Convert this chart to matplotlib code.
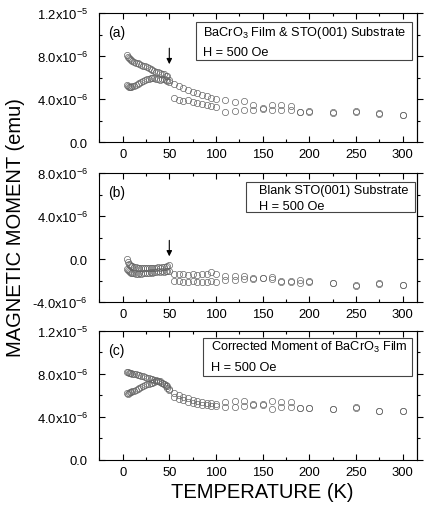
import numpy as np
import matplotlib
matplotlib.use("Agg")
import matplotlib.pyplot as plt
from matplotlib.patches import Rectangle
from matplotlib.ticker import MultipleLocator, FixedLocator

plt.rcParams['font.family'] = ['Liberation Sans', 'DejaVu Sans']
plt.rcParams['mathtext.default'] = 'regular'

# temperature grids (K)
t_low = [5, 6, 7, 8, 9, 10, 12, 14, 16, 18, 20, 22, 24, 26, 28, 30, 32, 34, 36, 38, 40, 42, 44, 46, 48, 50]
t_mid = [55, 60, 65, 70, 75, 80, 85, 90, 95, 100]
t_sparse = [110, 120, 130, 140, 150, 160, 170, 180, 190, 200, 225, 250, 275, 300]

# (a) film + substrate, units of 1e-6 emu
a_up_low = [8.15, 7.95, 7.8, 7.7, 7.6, 7.55, 7.5, 7.4, 7.35, 7.3, 7.2, 7.1, 7.05, 6.95, 6.9, 6.8, 6.7, 6.65, 6.55, 6.5, 6.4, 6.35, 6.3, 6.2, 6.15, 5.8]
a_dn_low = [5.3, 5.2, 5.15, 5.1, 5.15, 5.2, 5.25, 5.35, 5.45, 5.5, 5.6, 5.7, 5.75, 5.85, 5.9, 5.95, 5.95, 5.95, 5.9, 5.85, 5.8, 5.85, 5.9, 5.8, 5.7, 5.6]
a_up_mid = [5.4, 5.2, 5.0, 4.85, 4.7, 4.55, 4.4, 4.3, 4.15, 4.05]
a_dn_mid = [4.1, 3.95, 3.85, 3.95, 3.7, 3.6, 3.55, 3.45, 3.35, 3.3]
a_up_sp = [3.93, 3.75, 3.85, 3.45, 3.2, 3.5, 3.5, 3.4, 2.85, 2.9, 2.8, 2.9, 2.7, 2.55]
a_dn_sp = [2.85, 2.9, 2.95, 3.0, 3.05, 3.0, 3.0, 2.95, 2.8, 2.85, 2.75, 2.8, 2.65, 2.5]

# (b) blank substrate
b_up_low = [0.0, -0.3, -0.45, -0.55, -0.6, -0.65, -0.7, -0.75, -0.8, -0.8, -0.85, -0.8, -0.85, -0.8, -0.85, -0.8, -0.85, -0.8, -0.8, -0.75, -0.8, -0.75, -0.7, -0.7, -0.6, -0.55]
b_dn_low = [-0.95, -1.05, -1.15, -1.2, -1.25, -1.3, -1.3, -1.35, -1.35, -1.3, -1.35, -1.3, -1.25, -1.3, -1.25, -1.2, -1.25, -1.2, -1.2, -1.15, -1.2, -1.15, -1.2, -1.15, -1.1, -1.1]
b_up_mid = [-1.35, -1.4, -1.4, -1.45, -1.4, -1.45, -1.4, -1.35, -1.2, -1.4]
b_dn_mid = [-2.0, -2.05, -2.1, -2.1, -2.05, -2.1, -2.15, -2.1, -2.05, -2.1]
b_up_sp = [-1.55, -1.6, -1.55, -1.75, -1.75, -1.7, -2.05, -2.05, -1.9, -2.0, -2.2, -2.45, -2.2, -2.4]
b_dn_sp = [-1.9, -1.9, -1.85, -1.85, -1.8, -1.85, -2.15, -2.15, -2.2, -2.1, -2.25, -2.5, -2.3, -2.45]

# (c) corrected film moment
c_up_low = [8.2, 8.15, 8.1, 8.05, 8.05, 8.0, 8.0, 7.95, 7.9, 7.9, 7.85, 7.8, 7.7, 7.65, 7.6, 7.55, 7.5, 7.45, 7.4, 7.35, 7.3, 7.2, 7.1, 7.0, 6.9, 6.6]
c_dn_low = [6.2, 6.15, 6.2, 6.3, 6.35, 6.4, 6.45, 6.5, 6.6, 6.7, 6.8, 6.9, 7.0, 7.05, 7.1, 7.15, 7.2, 7.25, 7.3, 7.3, 7.25, 7.2, 7.1, 6.9, 6.7, 6.5]
c_up_mid = [6.25, 6.05, 5.9, 5.75, 5.6, 5.5, 5.4, 5.3, 5.3, 5.25]
c_dn_mid = [5.85, 5.7, 5.55, 5.4, 5.3, 5.2, 5.15, 5.1, 5.05, 5.0]
c_up_sp = [5.42, 5.5, 5.5, 5.2, 5.2, 5.5, 5.4, 5.35, 4.8, 4.8, 4.74, 4.95, 4.6, 4.6]
c_dn_sp = [4.9, 4.9, 5.0, 5.1, 5.15, 4.75, 4.9, 4.9, 4.8, 4.8, 4.74, 4.8, 4.6, 4.6]

panels = [
    dict(up=(a_up_low, a_up_mid, a_up_sp), dn=(a_dn_low, a_dn_mid, a_dn_sp),
         ylim=(0, 12e-6), ticks=[0, 4e-6, 8e-6, 12e-6],
         labels=['0.0', r'4.0x10$^{-6}$', r'8.0x10$^{-6}$', r'1.2x10$^{-5}$'],
         tag='(a)', text=[r'BaCrO$_3$ Film & STO(001) Substrate', 'H = 500 Oe'],
         box=(0.305, 0.636, 0.682, 0.294), txt=(0.327, 0.853, 0.698),
         arrow=(9.0e-6, 7.0e-6)),
    dict(up=(b_up_low, b_up_mid, b_up_sp), dn=(b_dn_low, b_dn_mid, b_dn_sp),
         ylim=(-4e-6, 8e-6), ticks=[-4e-6, 0, 4e-6, 8e-6],
         labels=[r'-4.0x10$^{-6}$', '0.0', r'4.0x10$^{-6}$', r'8.0x10$^{-6}$'],
         tag='(b)', text=['Blank STO(001) Substrate', 'H = 500 Oe'],
         box=(0.462, 0.695, 0.533, 0.238), txt=(0.503, 0.87, 0.747),
         arrow=(2.0e-6, 0.0)),
    dict(up=(c_up_low, c_up_mid, c_up_sp), dn=(c_dn_low, c_dn_mid, c_dn_sp),
         ylim=(0, 12e-6), ticks=[0, 4e-6, 8e-6, 12e-6],
         labels=['0.0', r'4.0x10$^{-6}$', r'8.0x10$^{-6}$', r'1.2x10$^{-5}$'],
         tag='(c)', text=[r'Corrected Moment of BaCrO$_3$ Film', 'H = 500 Oe'],
         box=(0.327, 0.651, 0.660, 0.295), txt=(0.352, 0.876, 0.721),
         arrow=None),
]

fig = plt.figure(figsize=(4.26, 5.06), dpi=100)
bottoms = [0.717, 0.401, 0.089]
t_all = np.array(t_low + t_mid + t_sparse)

for p, b in zip(panels, bottoms):
    ax = fig.add_axes([0.232, b, 0.746, 0.255])
    for br in (p['up'], p['dn']):
        vals = np.array(br[0] + br[1] + br[2]) * 1e-6
        ax.plot(t_all, vals, 'o', ms=4.5, mfc='none', mec='#666666', mew=0.5)
    ax.set_xlim(-25.5, 315)
    ax.set_ylim(*p['ylim'])
    ax.xaxis.set_major_locator(MultipleLocator(50))
    ax.xaxis.set_minor_locator(MultipleLocator(25))
    ax.set_yticks(p['ticks'])
    ax.set_yticklabels(p['labels'])
    ax.yaxis.set_minor_locator(MultipleLocator(2e-6))
    ax.tick_params(which='both', direction='in', top=True, labelsize=9.4, width=0.8, pad=4)
    ax.tick_params(axis='y', pad=8)
    ax.tick_params(which='major', length=4.5)
    ax.tick_params(which='minor', length=2.5)
    for s in ax.spines.values():
        s.set_linewidth(0.8)

    # right-hand ticks point outward
    sec = ax.secondary_yaxis('right')
    sec.set_yticks(p['ticks'])
    sec.yaxis.set_minor_locator(FixedLocator(np.arange(p['ylim'][0], p['ylim'][1] + 1e-9, 2e-6)))
    sec.tick_params(which='both', direction='out', labelright=False, width=0.8)
    sec.tick_params(which='major', length=4.5)
    sec.tick_params(which='minor', length=2.5)
    sec.spines['right'].set_linewidth(0.8)

    ax.text(0.028, 0.853, p['tag'], transform=ax.transAxes, fontsize=10, va='center')
    bx = p['box']
    ax.add_patch(Rectangle((bx[0], bx[1]), bx[2], bx[3], transform=ax.transAxes,
                           fill=False, ec='#444444', lw=0.8))
    ax.text(p['txt'][0], p['txt'][1], p['text'][0], transform=ax.transAxes, fontsize=9.2, va='center')
    ax.text(p['txt'][0], p['txt'][2], p['text'][1], transform=ax.transAxes, fontsize=9.2, va='center')

    if p['arrow'] is not None:
        ax.annotate('', xy=(50, p['arrow'][1]), xytext=(50, p['arrow'][0]),
                    arrowprops=dict(arrowstyle='-|>', color='k', lw=0.8, mutation_scale=8))

fig.text(0.037, 0.551, 'MAGNETIC MOMENT (emu)', rotation=90, fontsize=14.5,
         ha='center', va='center')
fig.text(0.615, 0.026, 'TEMPERATURE (K)', fontsize=14.5, ha='center', va='center')

fig.savefig('out.png', dpi=100)
